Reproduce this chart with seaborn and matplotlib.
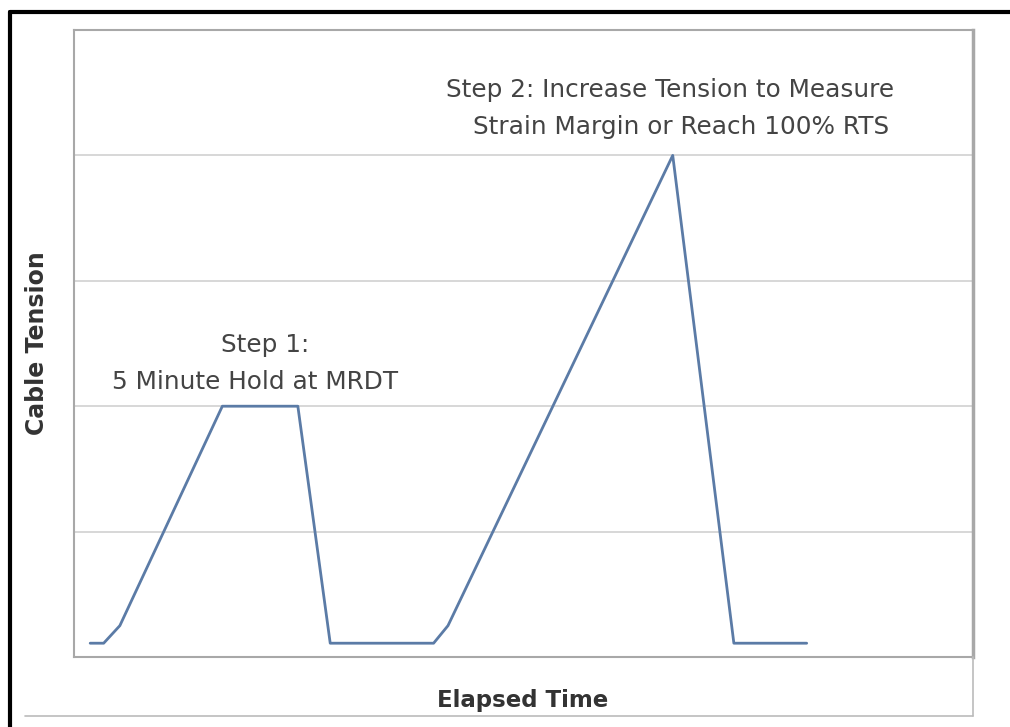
import matplotlib
matplotlib.use("Agg")
import matplotlib.pyplot as plt
from matplotlib.lines import Line2D
import seaborn as sns
import pandas as pd

# Data (arbitrary units)
elapsed_time = [1.8, 3.3, 5.1, 16.5, 24.9, 28.5, 40.0, 41.6, 66.6, 73.4, 81.5]
cable_tension = [0.11, 0.11, 0.25, 2.0, 2.0, 0.11, 0.11, 0.25, 4.0, 0.11, 0.11]
grid_levels = [1, 2, 3, 4]
step1_lines = ["Step 1:", "5 Minute Hold at MRDT"]
step2_lines = ["Step 2: Increase Tension to Measure", "Strain Margin or Reach 100% RTS"]

sns.set_style("white")
plt.rcParams['font.family'] = ['DejaVu Sans']

df = pd.DataFrame({"Elapsed Time": elapsed_time, "Cable Tension": cable_tension})

fig = plt.figure(figsize=(10.10, 7.27), dpi=100)
ax = fig.add_axes([74/1010, 1-657/727, (973-74)/1010, (657-30)/727])

for g in grid_levels:
    ax.axhline(g, color="#d4d4d4", lw=1.3, zorder=0)

sns.lineplot(data=df, x="Elapsed Time", y="Cable Tension", sort=False,
             color="#5b7ba6", lw=2.0, ax=ax, estimator=None)

ax.set_xlim(0, 100)
ax.set_ylim(0, 5)
ax.set_xticks([])
ax.set_yticks([])
ax.set_xlabel("")
ax.set_ylabel("")
for s in ax.spines.values():
    s.set_color("#a8a8a8")
    s.set_linewidth(1.5)
ax.spines["right"].set_linewidth(2.5)

tc = "#444444"
fs = 17.8
ax.text(21.3, 2.49, step1_lines[0], ha="center", va="center", fontsize=fs, color=tc)
ax.text(20.1, 2.19, step1_lines[1], ha="center", va="center", fontsize=fs, color=tc)
ax.text(66.3, 4.52, step2_lines[0], ha="center", va="center", fontsize=fs, color=tc)
ax.text(67.5, 4.23, step2_lines[1], ha="center", va="center", fontsize=fs, color=tc)

fig.text(523/1010, 1-700/727, "Elapsed Time", ha="center", va="center",
         fontsize=16.5, fontweight="bold", color="#333333")
fig.text(37/1010, 1-343/727, "Cable Tension", ha="center", va="center",
         rotation=90, fontsize=17, fontweight="bold", color="#333333")

# outer frame decorations
fig.add_artist(Line2D([10/1010, 10/1010], [0, 1-12/727], transform=fig.transFigure,
                      color="black", lw=3))
fig.add_artist(Line2D([10/1010, 1], [1-12/727, 1-12/727], transform=fig.transFigure,
                      color="black", lw=3))
fig.add_artist(Line2D([25/1010, 973/1010], [1-716/727, 1-716/727], transform=fig.transFigure,
                      color="#bbbbbb", lw=1.2))
fig.add_artist(Line2D([973/1010, 973/1010], [1-716/727, 1-657/727], transform=fig.transFigure,
                      color="#bbbbbb", lw=1.2))

fig.savefig("out.png", dpi=100)
